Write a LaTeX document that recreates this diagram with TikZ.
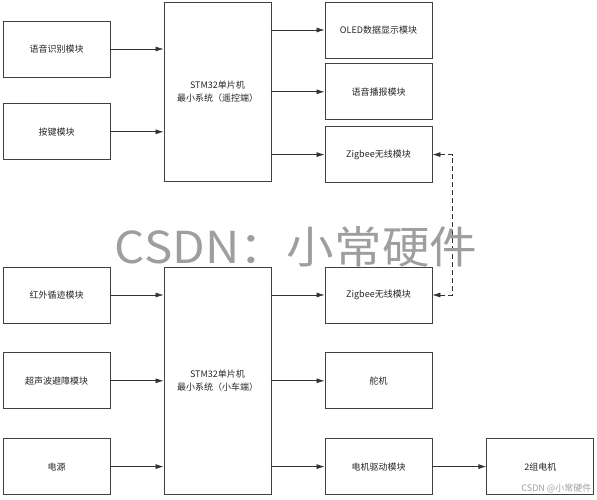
\documentclass[tikz,border=0pt]{standalone}
\usepackage{fontspec}
\setmainfont{Noto Sans CJK SC}
\usepackage{tikz}
\usetikzlibrary{
	arrows.meta,
	positioning,
	calc
}

\begin{document}
\begin{tikzpicture}[
			x=1pt, y=-1pt,
			font=\fontsize{9}{13}\selectfont,
			mod/.style={draw=black!75, line width=0.8pt, minimum width=107pt, minimum height=56pt, align=center, text=black!85},
			mcu/.style={mod, minimum height=179pt},
			>={Latex[length=8pt, width=5pt]},
			fl/.style={->, line width=0.7pt, draw=black!80},
			marca/.style={text=black!38}
		]
		\useasboundingbox (0,0) rectangle (597,500);

		% lado do controle remoto
		\node[mod] (voz) at (56.5,49) {语音识别模块};
		\node[mod, below=26pt of voz] (tecla) {按键模块};
		\node[mcu] (mcuA) at (217.5,91.5) {STM32单片机\\ 最小系统（遥控端）};

		\node[mod] (oled) at (378.5,30) {OLED数据显示模块};
		\node[mod, below=5pt of oled] (fala) {语音播报模块};
		\node[mod, below=6pt of fala] (zigA) {Zigbee无线模块};

		\draw[fl] (voz) -- (voz -| mcuA.west);
		\draw[fl] (tecla) -- (tecla -| mcuA.west);
		\draw[fl] (oled -| mcuA.east) -- (oled);
		\draw[fl] (fala -| mcuA.east) -- (fala);
		\draw[fl] (zigA -| mcuA.east) -- (zigA);

		% lado do carrinho
		\node[mod] (ir) at (56.5,295) {红外循迹模块};
		\node[mod, below=29pt of ir] (ultra) {超声波避障模块};
		\node[mod, below=29pt of ultra] (fonte) {电源};
		\node[mcu, minimum height=227pt] (mcuB) at (217.5,380.5) {STM32单片机\\ 最小系统（小车端）};

		\node[mod] (zigB) at (378.5,295) {Zigbee无线模块};
		\node[mod, below=29pt of zigB] (leme) {舵机};
		\node[mod, below=29pt of leme] (motor) {电机驱动模块};
		\node[mod, right=54pt of motor] (motores) {2组电机};

		\draw[fl] (ir) -- (ir -| mcuB.west);
		\draw[fl] (ultra) -- (ultra -| mcuB.west);
		\draw[fl] (fonte) -- (fonte -| mcuB.west);
		\draw[fl] (zigB -| mcuB.east) -- (zigB);
		\draw[fl] (leme -| mcuB.east) -- (leme);
		\draw[fl] (motor -| mcuB.east) -- (motor);
		\draw[fl] (motor) -- (motores);

		% enlace sem fio
		\coordinate[right=20pt of zigA.east] (elo);
		\draw[fl, <->, dashed, dash pattern=on 5pt off 3pt] (zigA.east) -- (elo) |- (zigB.east);

		% marcas d'agua
		\node[marca, font=\fontsize{44}{44}\selectfont, xscale=1.08] (marcaA) at (296,247) {CSDN：小常硬件};
		\node[marca, anchor=south east, font=\fontsize{9}{9}\selectfont] (marcaB) at (595,497) {CSDN @小常硬件};
	\end{tikzpicture}
\end{document}
